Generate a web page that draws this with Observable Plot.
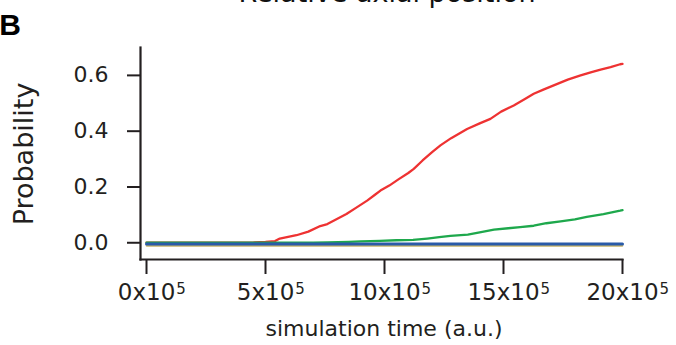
<!DOCTYPE html>
<html><head><meta charset="utf-8">
<script src="https://cdn.jsdelivr.net/npm/d3@7"></script>
<script src="https://cdn.jsdelivr.net/npm/@observablehq/plot@0.6"></script>
<style>
body{margin:0;background:#fff;}
#chart{width:676px;height:345px;overflow:hidden;}
svg{overflow:visible}
</style></head>
<body><div id="chart"></div>
<script>
// time in units of 1e5 (a.u.)
const redT = [0,1,2,3,4,4.5,5,5.4,5.6,5.9,6.3,6.8,7.3,7.6,8.0,8.4,8.8,9.27,9.6,9.83,10.2,10.6,11.0,11.23,11.6,12.0,12.35,12.8,13.47,14.0,14.45,14.9,15.43,15.9,16.27,16.7,17.11,17.7,18.24,18.7,19.08,19.5,19.9,20];
const redP = [0,0,0,0,0,0.001,0.003,0.006,0.015,0.02,0.027,0.04,0.06,0.067,0.085,0.103,0.125,0.151,0.172,0.187,0.205,0.228,0.25,0.265,0.295,0.325,0.349,0.375,0.408,0.428,0.444,0.47,0.492,0.515,0.534,0.55,0.564,0.585,0.6,0.612,0.621,0.63,0.64,0.641];
const greenT = [0,2,4,6,7,7.6,8.5,9.0,9.8,10.5,11.2,11.8,12.3,12.77,13.5,14.0,14.6,15.2,15.7,16.27,16.8,17.4,18.0,18.5,19.2,19.9,20];
const greenP = [0,0,0,0,0,0.001,0.003,0.005,0.007,0.009,0.01,0.015,0.02,0.025,0.029,0.037,0.047,0.052,0.056,0.061,0.07,0.077,0.084,0.093,0.103,0.115,0.117];
const blueT = [0,20];
const blueP = [-0.004,-0.004];
const tanT = [0,20];
const tanP = [-0.011,-0.011];
const xTicks = [0,5,10,15,20];
const yTicks = [0,0.2,0.4,0.6];
const titleText = "Relative axial position";
const panelLabel = "B";
const xLabel = "simulation time (a.u.)";
const yLabel = "Probability";

const toRows = (T,P) => T.map((t,i)=>({t:t*1e5, p:P[i]}));
const red = toRows(redT, redP), green = toRows(greenT, greenP), blue = toRows(blueT, blueP), tan = toRows(tanT, tanP);

const FONT = "DejaVu Sans";
const AX = "#231f20";

const plot = Plot.plot({
  width: 676, height: 345,
  marginLeft: 140, marginRight: 54, marginTop: 47, marginBottom: 86,
  style: {fontFamily: FONT, background: "#fff", color: AX},
  x: {domain: [0, 2e6], range: [146, 622]},
  y: {domain: [-0.06, 0.7]},
  marks: [
    Plot.frame({anchor: "left", stroke: AX, strokeWidth: 2.2}),
    Plot.frame({anchor: "bottom", stroke: AX, strokeWidth: 2.2}),
    Plot.axisY({ticks: yTicks, tickFormat: d3.format(".1f"), tickSize: 13, tickPadding: 19, fontSize: 22, strokeWidth: 2, label: null}),
    Plot.axisX({ticks: xTicks.map(d=>d*1e5), tickFormat: d => `${d/1e5}x10`, tickSize: 15, tickPadding: 9, fontSize: 23, strokeWidth: 2, label: null}),
    Plot.line(tan, {x: "t", y: "p", stroke: "#c9b56a", strokeWidth: 1.6}),
    Plot.line(red, {x: "t", y: "p", stroke: "#ee3232", strokeWidth: 2.3}),
    Plot.line(green, {x: "t", y: "p", stroke: "#1ea84c", strokeWidth: 2.3}),
    Plot.line(blue, {x: "t", y: "p", stroke: "#2a5ba8", strokeWidth: 3})
  ]
});
document.getElementById("chart").appendChild(plot);

const svg = d3.select(plot);
// superscripts on x tick labels
svg.selectAll('g[aria-label="x-axis tick label"] text').each(function(){
  const t = d3.select(this);
  const len = this.getComputedTextLength();
  t.attr("text-anchor", "start").attr("x", -len/2);
  t.append("tspan").attr("dy", "-0.42em").attr("font-size", 15).attr("dx", 1).text("5");
});
svg.append("text").attr("x", 387).attr("y", 2).attr("text-anchor", "middle")
  .attr("font-family", FONT).attr("font-size", 27).attr("fill", "#111").text(titleText);
svg.append("text").attr("x", 10).attr("y", 35).attr("font-family", "Liberation Sans").attr("font-weight", "bold")
  .attr("font-size", 30).attr("fill", "#000").text(panelLabel);
svg.append("text").attr("transform", "translate(33,154) rotate(-90)").attr("text-anchor", "middle")
  .attr("font-family", FONT).attr("font-size", 27).attr("fill", AX).text(yLabel);
svg.append("text").attr("x", 384).attr("y", 336).attr("text-anchor", "middle")
  .attr("font-family", FONT).attr("font-size", 22).attr("fill", AX).text(xLabel);
</script>
</body></html>
